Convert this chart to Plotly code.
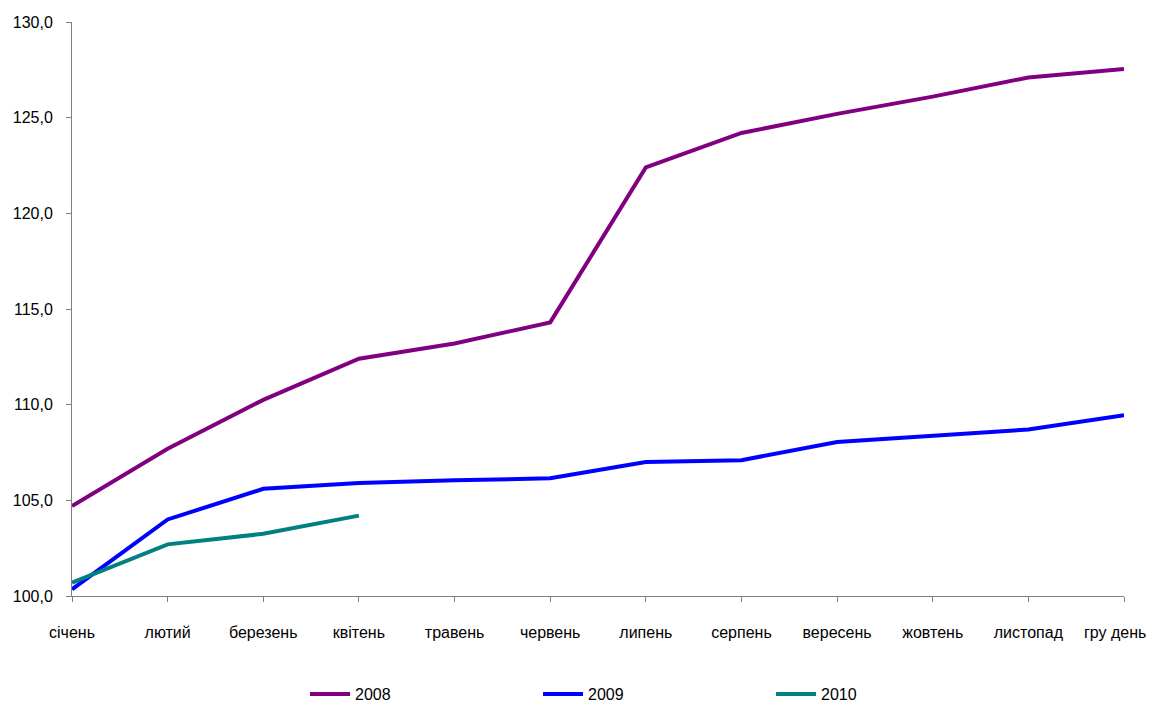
import plotly.graph_objects as go

months = ["січень", "лютий", "березень", "квітень", "травень", "червень",
          "липень", "серпень", "вересень", "жовтень", "листопад",
          "гру день\u00a0\u00a0\u00a0\u00a0"]
v2008 = [104.7, 107.7, 110.25, 112.4, 113.2, 114.3, 122.4, 124.2, 125.2, 126.1, 127.1, 127.55]
v2009 = [100.35, 104.0, 105.6, 105.9, 106.05, 106.15, 107.0, 107.1, 108.05, 108.35, 108.7, 109.45]
v2010 = [100.7, 102.7, 103.25, 104.2]
yticks = [100, 105, 110, 115, 120, 125, 130]

xs = list(range(len(months)))
fig = go.Figure()
fig.add_trace(go.Scatter(x=xs[:len(v2008)], y=v2008, name="2008", mode="lines",
                         line=dict(color="#800080", width=4)))
fig.add_trace(go.Scatter(x=xs[:len(v2009)], y=v2009, name="2009", mode="lines",
                         line=dict(color="#0000FF", width=4)))
fig.add_trace(go.Scatter(x=xs[:len(v2010)], y=v2010, name="2010", mode="lines",
                         line=dict(color="#008080", width=4)))

font = dict(family="Liberation Sans, Arial, sans-serif", size=16, color="#000000")
fig.update_layout(
    width=1147, height=696,
    margin=dict(l=64, r=31, t=14, b=108, autoexpand=False),
    plot_bgcolor="white", paper_bgcolor="white",
    font=font,
    separators=",.",
    showlegend=True,
    legend=dict(orientation="h", x=0.2215, y=0.0144, xanchor="left", yanchor="middle",
                yref="container", entrywidth=178, entrywidthmode="pixels", font=font,
                itemwidth=40),
    xaxis=dict(range=[0, 11], tickmode="array", tickvals=xs, ticktext=months,
               showgrid=False, zeroline=False, showline=True, linecolor="#808080",
               linewidth=1, ticks="outside", ticklen=5, tickcolor="#808080",
               ticklabelstandoff=17, automargin=False, ticklabeloverflow="allow"),
    yaxis=dict(range=[100, 130], tickmode="array", tickvals=yticks,
               tickformat=".1f", showgrid=False, zeroline=False, showline=True,
               linecolor="#808080", linewidth=1, ticks="outside", ticklen=5,
               tickcolor="#808080", ticklabelstandoff=10, automargin=False),
)
fig.write_html("out.html")
